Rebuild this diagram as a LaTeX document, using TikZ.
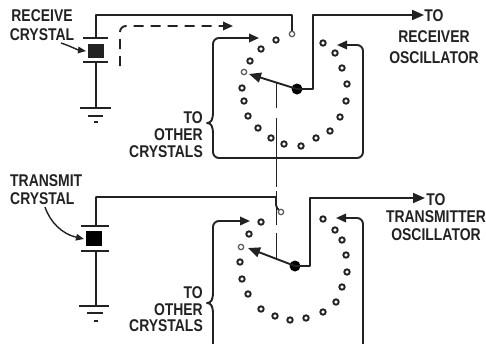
\documentclass[tikz,border=0pt]{standalone}
\usepackage{fontspec}
\newfontfamily\lblfont[FakeStretch=0.82]{Liberation Sans}
\usetikzlibrary{arrows.meta}
\definecolor{ink}{HTML}{222222}
\definecolor{inklight}{HTML}{606060}
\begin{document}
\begin{tikzpicture}[x=1pt,y=-1pt,
  wire/.style={draw=ink, line width=1.9pt, line join=round},
  gang/.style={draw=ink, line width=1pt},
  plate/.style={draw=ink, line width=2.2pt},
  outtip/.style={-{Triangle[length=12pt,width=10pt]}},
  armtip/.style={-{Triangle[length=12pt,width=10pt]}},
  brtip/.style={-{Triangle[length=10pt,width=8.5pt]}},
  rc/.style={rounded corners=6pt},
  lbl/.style={font=\lblfont\bfseries\fontsize{17}{17}\selectfont, text=ink, inner sep=0pt},
  contact/.style={circle, draw=ink, line width=1.9pt, minimum size=5.4pt, inner sep=0pt},
  lcontact/.style={contact, draw=inklight, line width=1.3pt},
  pivot/.style={circle, fill=black, minimum size=11pt, inner sep=0pt},
  xtal/.style={fill=ink, draw=none}
]
\useasboundingbox (0,0) rectangle (486,343);

% ================= UPPER (RECEIVE) =================
\coordinate (uxt) at (96,38);
\coordinate (uxb) at (96,62);
\coordinate (ugnd) at (96,108);
\draw[plate] (83,38) -- (108,38);
\draw[plate] (83,62) -- (108,62);
\fill[xtal] (88,44) rectangle (104,58);
\draw[wire] (uxb) -- (ugnd);
\draw[plate] (80,108) -- (111,108);
\draw[plate] (88,116) -- (103,116);
\draw[line width=2.8pt, ink] (94,122) -- (98,122);

\node[lbl, align=center, font=\lblfont\bfseries\fontsize{17}{19}\selectfont] (urtxt) at (42,25) {RECEIVE\\CRYSTAL};
\draw[wire, line width=1.4pt, -{Triangle[length=8pt,width=6.5pt]}] (61,43) .. controls (70,46) and (78,50) .. (86,51);

\foreach \p [count=\i] in {(292,34),(276,40),(261,49),(250,61),(244,72),(242,88),(244,101),(248,116),(258,128),(271,138),(284,144),(301,146),(316,138),(330,131),(340,117),(346,101),(347,84),(342,68),(335,53),(323,43)}{
  \ifnum\i=1 \node[lcontact] (u\i) at \p {};
  \else\ifnum\i=5 \node[lcontact] (u\i) at \p {};
  \else \node[contact] (u\i) at \p {};
  \fi\fi
}
\draw[wire] (uxt) -- (96,15) -- (292,15) -- (u1.north);
\draw[wire, rc, dash pattern=on 10pt off 7pt, brtip] (120,66) -- (120,26) -- (233,26);
\node[pivot] (up) at (297,89) {};
\coordinate (uarm) at (249,74);
\draw[wire, armtip] (up.center) -- (uarm);
\coordinate (uout) at (424,15);
\draw[wire, outtip] (up.center) -- (313,89) -- (313,15) -- (uout);
\node[lbl, align=center, font=\lblfont\bfseries\fontsize{17}{21}\selectfont] (uouttxt) at (434,37) {TO\\RECEIVER\\OSCILLATOR};
\draw[wire, rc, {Triangle[length=10pt,width=8.5pt]}-] (259,38) -- (213,38) -- (213,112);
\draw[wire] (213,112) .. controls (213,120) and (211,123) .. (207,123) .. controls (211,123) and (213,126) .. (213,134);
\draw[wire, rc, brtip] (213,134) -- (213,158) -- (363,158) -- (363,45) -- (337,45);
\node[lbl, align=right, anchor=east] (uother) at (203,135) {TO\\OTHER\\CRYSTALS};

% ================= GANG LINE =================
\draw[gang] (276,83) -- (276,108);
\draw[gang] (276,118) -- (276,187);
\draw[gang] (276,191) -- (276,225);
\draw[gang] (276,233) -- (276,258);

% ================= LOWER (TRANSMIT) =================
\coordinate (lxt) at (96,226);
\coordinate (lxb) at (96,251);
\coordinate (lgnd) at (96,306);
\draw[plate] (81,226) -- (109,226);
\draw[plate] (81,251) -- (109,251);
\fill[black] (86,231) rectangle (102,246);
\draw[wire] (lxb) -- (lgnd);
\draw[plate] (79,306) -- (109,306);
\draw[plate] (87,313) -- (103,313);
\draw[line width=2.8pt, ink] (94,321) -- (98,321);

\node[lbl, align=left, anchor=west, font=\lblfont\bfseries\fontsize{17}{18}\selectfont] (lttxt) at (10,190) {TRANSMIT\\CRYSTAL};
\draw[wire, line width=1.4pt, -{Triangle[length=8pt,width=6.5pt]}] (45,207) .. controls (50,222) and (62,234) .. (84,239);

\foreach \p [count=\i] in {(281,212),(261,222),(249,234),(241,247),(240,262),(242,279),(248,294),(261,309),(275,316),(290,320),(306,318),(323,312),(336,302),(342,287),(347,272),(346,255),(342,240),(335,230),(323,219)}{
  \ifnum\i=1 \node[lcontact] (l\i) at \p {};
  \else\ifnum\i=4 \node[lcontact] (l\i) at \p {};
  \else \node[contact] (l\i) at \p {};
  \fi\fi
}
\draw[wire] (lxt) -- (96,197) -- (276,197) -- (276,205) .. controls (276,208) and (278,209) .. (l1.north west);
\node[pivot] (lp) at (295,266) {};
\coordinate (larm) at (248,248);
\draw[wire, armtip] (lp.center) -- (larm);
\coordinate (lout) at (425,198);
\draw[wire, outtip] (lp.center) -- (310,266) -- (310,198) -- (lout);
\node[lbl, align=center, font=\lblfont\bfseries\fontsize{17}{17.5}\selectfont] (louttxt) at (436,217) {TO\\TRANSMITTER\\OSCILLATOR};
\draw[wire, rc, {Triangle[length=10pt,width=8.5pt]}-] (250,221) -- (213,221) -- (213,292);
\draw[wire] (213,292) .. controls (213,300) and (211,303) .. (207,303) .. controls (211,303) and (213,306) .. (213,314);
\draw[wire] (213,314) -- (213,345);
\draw[wire, rc, {Triangle[length=10pt,width=8.5pt]}-] (336,218) -- (363,218) -- (363,345);
\node[lbl, align=right, anchor=east, font=\lblfont\bfseries\fontsize{17}{16.5}\selectfont] (lother) at (203,309.5) {TO\\OTHER\\CRYSTALS};
\end{tikzpicture}
\end{document}
